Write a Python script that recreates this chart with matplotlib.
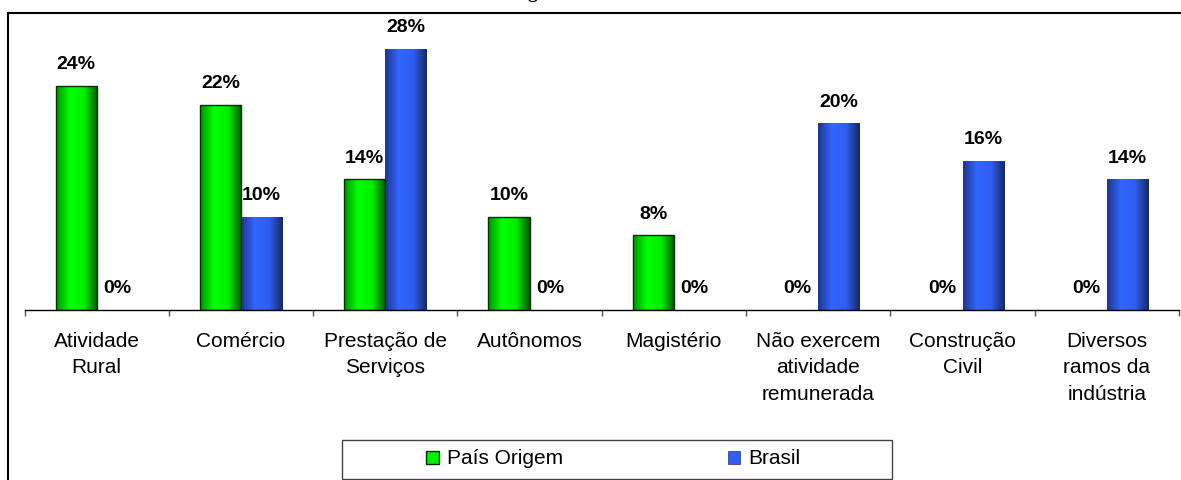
import numpy as np
import matplotlib
matplotlib.use('Agg')
import matplotlib.pyplot as plt
from matplotlib.colors import LinearSegmentedColormap
from matplotlib.patches import Rectangle, Patch

plt.rcParams['font.family'] = ['Liberation Sans', 'DejaVu Sans']

categorias = ['Atividade\nRural', 'Comércio', 'Prestação de\nServiços', 'Autônomos',
              'Magistério', 'Não exercem\natividade\nremunerada', 'Construção\nCivil',
              'Diversos\nramos da\nindústria']
pais_origem = [24, 22, 14, 10, 8, 0, 0, 0]
brasil = [0, 10, 28, 0, 0, 20, 16, 14]
series = ['País Origem', 'Brasil']

W, H = 1181, 480
fig = plt.figure(figsize=(W / 100, H / 100), dpi=100)
ax = fig.add_axes([24.5 / W, 170 / H, 1154.5 / W, 298 / H])

verde = LinearSegmentedColormap.from_list('verde', ['#009400', '#00ff00', '#00f000', '#005200'])
azul = LinearSegmentedColormap.from_list('azul', ['#1e368c', '#3366ff', '#2f5ef0', '#172766'])

x = np.arange(len(categorias))
largura = 0.285
b1 = ax.bar(x, pais_origem, -largura, align='edge', facecolor='none',
            edgecolor='#003300', linewidth=1, zorder=3)
b2 = ax.bar(x, brasil, largura, align='edge', facecolor='none',
            edgecolor='none', linewidth=0, zorder=3)

grad = np.linspace(0, 1, 256).reshape(1, -1)
for barras, cmap in ((b1, verde), (b2, azul)):
    for p in barras:
        if p.get_height() <= 0:
            p.set_linewidth(0)
            continue
        x0, y0 = p.get_x(), p.get_y()
        x1, y1 = x0 + p.get_width(), y0 + p.get_height()
        im = ax.imshow(grad, cmap=cmap, aspect='auto', zorder=2,
                       extent=(min(x0, x1), max(x0, x1), y0, y1))
        im.set_clip_path(p)

for barras, vals in ((b1, pais_origem), (b2, brasil)):
    for p, v in zip(barras, vals):
        ax.annotate('{:d}%'.format(v), (p.get_x() + p.get_width() / 2, v),
                    xytext=(0, 12), textcoords='offset points', ha='center',
                    va='baseline', fontsize=14, fontweight='bold', clip_on=False)

ax.set_xlim(-0.5, len(categorias) - 0.5)
ax.set_ylim(0, 298 / 9.333)
for s in ['top', 'left', 'right']:
    ax.spines[s].set_visible(False)
ax.spines['bottom'].set_linewidth(1)
ax.set_yticks([])
ax.set_xticks(np.arange(len(categorias) + 1) - 0.5)
ax.set_xticklabels([])
ax.tick_params(axis='x', which='major', length=4.5, width=1, color='#555555', direction='out')
ax.set_xticks(x, minor=True)
ax.set_xticklabels(categorias, minor=True, fontsize=15, linespacing=1.5)
ax.tick_params(axis='x', which='minor', length=0, pad=15.5)

# moldura externa e da legenda
fig.patches.append(Rectangle((8 / W, -0.5), 2, 0.5 + 467 / H, fill=False,
                             edgecolor='black', linewidth=1.5, transform=fig.transFigure))
fig.patches.append(Rectangle((342 / W, 1 / H), 550 / W, 39 / H, fill=False,
                             edgecolor='#444444', linewidth=1, transform=fig.transFigure))

handles = [Patch(facecolor='#00ee00', edgecolor='#003300', linewidth=1),
           Patch(facecolor='#2f5ef0', edgecolor='#1e368c', linewidth=0.5)]
fig.legend(handles, series, loc='center left', bbox_to_anchor=(426 / W, 21 / H),
           ncol=2, frameon=False, fontsize=15, handlelength=0.6, handleheight=0.6,
           handletextpad=0.4, columnspacing=7.9, borderpad=0, borderaxespad=0)

# resto do titulo cortado no topo
fig.text(532 / W, 1 + 2 / H, 'g', ha='center', va='baseline', fontsize=14,
         fontweight='bold', family=['Liberation Serif', 'DejaVu Serif'])

plt.savefig('out.png', dpi=100)
plt.close()
